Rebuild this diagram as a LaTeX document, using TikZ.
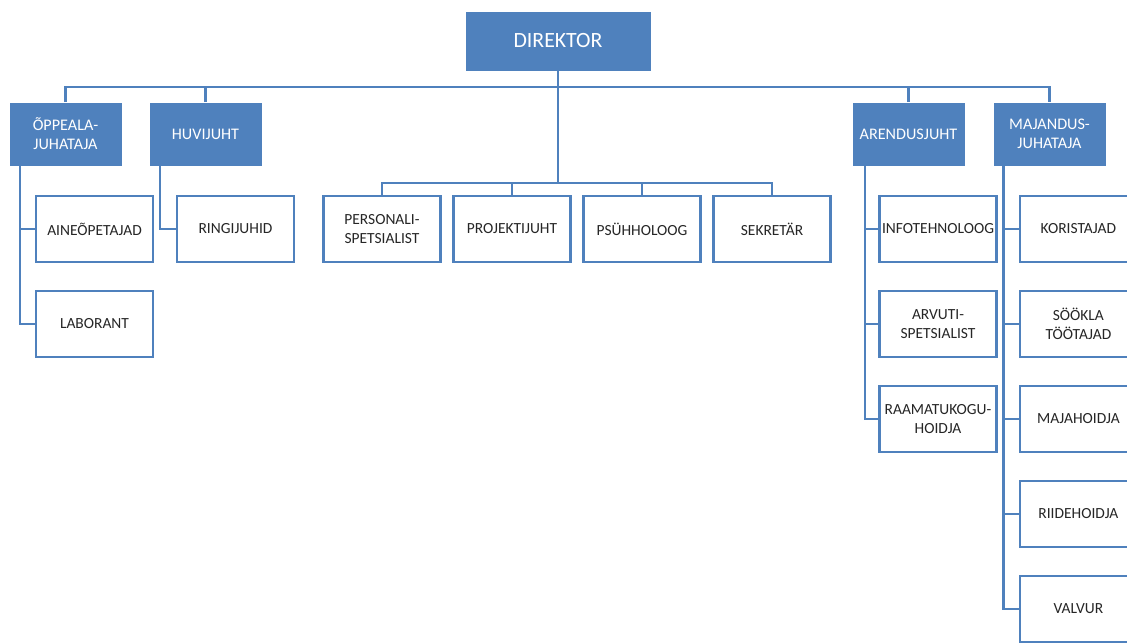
\documentclass[tikz,border=0pt]{standalone}
\usepackage{fontspec}
\setmainfont{Carlito}
\usepackage{tikz}
\usetikzlibrary{calc,positioning}

\definecolor{orgblue}{RGB}{79,129,189}
\definecolor{orgtext}{RGB}{38,38,38}

\begin{document}
\begin{tikzpicture}[node distance=0.725cm,
    juht/.style={rectangle,fill=orgblue,draw=white,line width=0.6pt,outer sep=0pt,inner sep=1pt,
        minimum width=2.825cm,minimum height=1.6cm,text=white,align=center,
        font=\fontsize{11.5}{13.5}\selectfont},
    alluv/.style={rectangle,fill=white,draw=orgblue,line width=2pt,outer sep=0pt,inner sep=1pt,
        minimum width=2.925cm,minimum height=1.65cm,text=orgtext,align=center,
        font=\fontsize{11}{13.5}\selectfont},
    liin/.style={draw=orgblue,line width=2pt}]
    \clip (0,0) rectangle (28.175,-16.075);
    \fill[white] (0,0) rectangle (28.175,-16.075);
    % juhid
    \node[juht,minimum width=4.65cm,minimum height=1.5cm,font=\fontsize{15.5}{18}\selectfont] (Direktor) at (13.95,-1.025) {DIREKTOR};
    \node[juht] (Oppe) at (1.6375,-3.35) {ÕPPEALA-\\JUHATAJA};
    \node[juht,right=0.675cm of Oppe] (Huvi) {HUVIJUHT};
    \node[juht] (Arendus) at (22.7125,-3.35) {ARENDUSJUHT};
    \node[juht,right=0.7cm of Arendus] (Majandus) {MAJANDUS-\\JUHATAJA};
    %
    \node[alluv] (Aine) at (2.3625,-5.725) {AINEÕPETAJAD};
    \node[alluv,below=of Aine] (Laborant) {LABORANT};
    \node[alluv] (Ringi) at (5.8875,-5.725) {RINGIJUHID};
    %
    \node[alluv] (Pers) at (9.55,-5.725) {PERSONALI-\\SPETSIALIST};
    \node[alluv,right=0.325cm of Pers] (Proj) {PROJEKTIJUHT};
    \node[alluv,right=0.325cm of Proj] (Psyh) {PSÜHHOLOOG};
    \node[alluv,right=0.325cm of Psyh] (Sekr) {SEKRETÄR};
    %
    \node[alluv] (Info) at (23.45,-5.725) {INFOTEHNOLOOG};
    \node[alluv,below=of Info] (Arvuti) {ARVUTI-\\SPETSIALIST};
    \node[alluv,below=of Arvuti] (Raamat) {RAAMATUKOGU-\\HOIDJA};
    %
    \node[alluv] (Kor) at (26.96,-5.725) {KORISTAJAD};
    \node[alluv,below=of Kor] (Sook) {SÖÖKLA\\TÖÖTAJAD};
    \node[alluv,below=of Sook] (Maja) {MAJAHOIDJA};
    \node[alluv,below=of Maja] (Riide) {RIIDEHOIDJA};
    \node[alluv,below=of Riide] (Valvur) {VALVUR};
    %
    \draw[liin] (Oppe.north) -- ++(0,0.375) -| (Majandus.north);
    \foreach \n in {Huvi,Arendus}
        \draw[liin] (\n.north) -- ++(0,0.375);
    \draw[liin] (Pers.north) -- ++(0,0.325) -| (Sekr.north);
    \foreach \n in {Proj,Psyh}
        \draw[liin] (\n.north) -- ++(0,0.325);
    \draw[liin] (Direktor.south) -- ($(Direktor.south |- Pers.north)+(0,0.325)$);
    %
    \draw[liin] ($(Oppe.south west)+(0.275,0)$) coordinate (oppeliin) |- (Laborant.west);
    \draw[liin] (oppeliin |- Aine.west) -- (Aine.west);
    \draw[liin] ($(Huvi.south west)+(0.275,0)$) |- (Ringi.west);
    \draw[liin] ($(Arendus.south west)+(0.325,0)$) coordinate (arendliin) |- (Raamat.west);
    \foreach \n in {Info,Arvuti}
        \draw[liin] (arendliin |- \n.west) -- (\n.west);
    \draw[liin] ($(Majandus.south west)+(0.26,0)$) coordinate (majliin) |- (Valvur.west);
    \foreach \n in {Kor,Sook,Maja,Riide}
        \draw[liin] (majliin |- \n.west) -- (\n.west);
\end{tikzpicture}
\end{document}
